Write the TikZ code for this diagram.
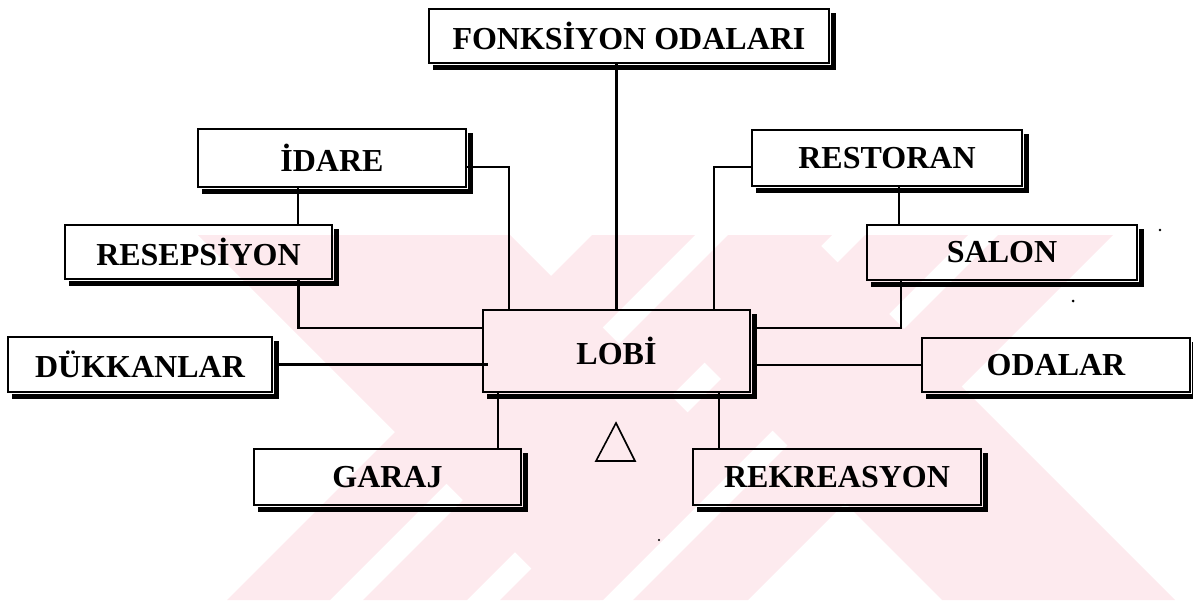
\documentclass[tikz,border=0pt]{standalone}
\usepackage{fontspec}
\setmainfont{Liberation Serif}
\definecolor{wm}{RGB}{253,234,238}
\tikzset{
  box/.style={draw, line width=2.4pt, inner sep=0pt, font=\bfseries\fontsize{32}{36}\selectfont},
  shade/.style={line width=5pt, line join=miter},
  link/.style={line width=2.4pt},
  speck/.style={fill=black}
}
\begin{document}
\begin{tikzpicture}[x=1pt,y=-1pt]
\useasboundingbox (0,0) rectangle (1193,600);
% watermark: striped "/" band
\fill[wm] (592,235) -- (695,235) -- (330,600) -- (227,600) -- cycle;
\fill[wm] (728,235) -- (832,235) -- (467,600) -- (363,600) -- cycle;
\fill[wm] (865,235) -- (968,235) -- (603,600) -- (500,600) -- cycle;
\fill[wm] (998,235) -- (1113,235) -- (748,600) -- (633,600) -- cycle;
% watermark: upper-left and lower-right "\" arms
\fill[wm] (198,235) -- (510,235) -- (737.5,462.5) -- (600,600) -- (563,600) -- cycle;
\fill[wm] (765,235) -- (810,235) -- (1175,600) -- (942,600) -- (671,329) -- cycle;
% boxes
\node[box, minimum width=400pt, minimum height=54pt] (fonk) at (629,36) {FONKSİYON ODALARI};
\node[box, minimum width=268pt, minimum height=58pt] (idare) at (332,158) {İDARE};
\node[box, minimum width=267pt, minimum height=54pt] (resep) at (198.5,252) {RESEPSİYON};
\node[box, minimum width=270pt, minimum height=56pt] (rest) at (887,158) {RESTORAN};
\node[box, minimum width=270pt, minimum height=55pt] (salon) at (1002,252.5) {SALON};
\node[box, minimum width=267pt, minimum height=82pt] (lobi) at (616.5,351) {LOBİ};
\node[box, minimum width=264pt, minimum height=55pt] (dukkan) at (140,364.5) {DÜKKANLAR};
\node[box, minimum width=268pt, minimum height=54pt] (odalar) at (1056,365) {ODALAR};
\node[box, minimum width=267pt, minimum height=56pt] (garaj) at (387.5,477) {GARAJ};
\node[box, minimum width=288pt, minimum height=56pt] (rekre) at (837,477) {REKREASYON};
% shadows
\foreach \n in {fonk,idare,resep,rest,salon,lobi,dukkan,odalar,garaj,rekre}
  \draw[shade] ([xshift=5pt,yshift=-3.5pt]\n.south west) -| ([xshift=3.5pt,yshift=-5pt]\n.north east);
% connectors
\draw[link] (lobi.north) -- (lobi.north |- fonk.south);
\draw[link] ([yshift=-9pt]idare.east) -| ([xshift=27pt]lobi.north west);
\draw[link] ([xshift=-34pt]idare.south) -- ([xshift=-34pt]idare.south |- resep.north);
\draw[link] ([xshift=100pt]resep.south) |- ([yshift=-19pt]lobi.north west);
\draw[link] ([xshift=6pt]dukkan.east) -- ([xshift=6pt]dukkan.east -| lobi.west);
\draw[link] ([xshift=16pt]lobi.south west) -- ([xshift=16pt]lobi.south west |- garaj.north);
\draw[link] ([yshift=-9pt]rest.west) -| ([xshift=-37pt]lobi.north east);
\draw[link] ([xshift=12pt]rest.south) -- ([xshift=12pt]rest.south |- salon.north);
\draw[link] ([xshift=-101pt]salon.south) |- ([xshift=6pt,yshift=-19pt]lobi.north east);
\draw[link] (odalar.west) -- ([xshift=6pt]odalar.west -| lobi.east);
\draw[link] ([xshift=-32pt]lobi.south east) -- ([xshift=-32pt]lobi.south east |- rekre.north);
% triangle
\coordinate (tri) at (616,423);
\draw[line width=1.6pt, line join=miter] (tri) -- ++(19,38) -- ++(-39,0) -- cycle;
% specks
\fill[speck] (1160,230) circle (1.3pt);
\fill[speck] (1073,301) circle (1.5pt);
\fill[speck] (659,540) circle (1.2pt);
\end{tikzpicture}
\end{document}
